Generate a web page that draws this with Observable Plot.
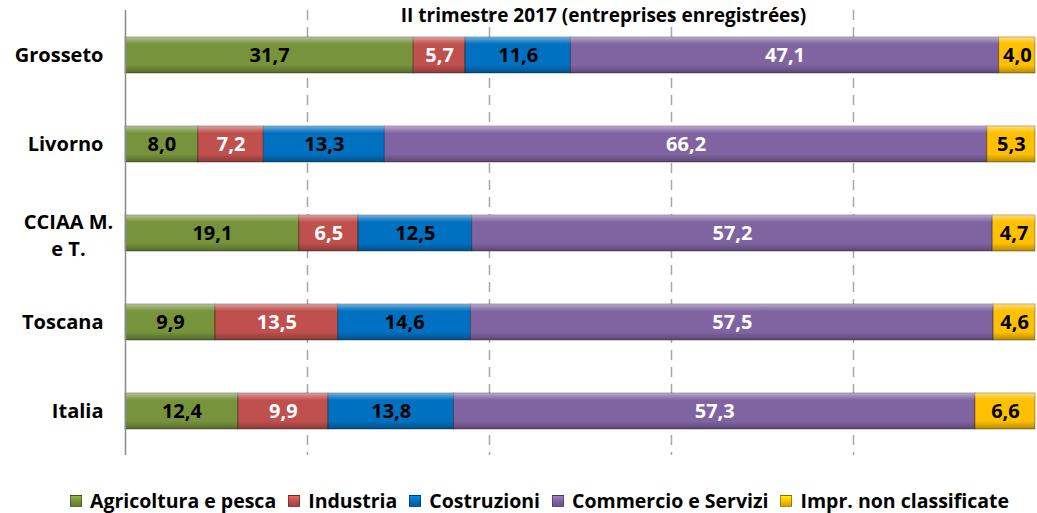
<!DOCTYPE html>
<html>
<head>
<meta charset="utf-8">
<script src="https://cdn.jsdelivr.net/npm/d3@7"></script>
<script src="https://cdn.jsdelivr.net/npm/@observablehq/plot@0.6"></script>
<style>
  html, body { margin: 0; padding: 0; background: #fff; }
  body { width: 1037px; height: 513px; overflow: hidden; font-family: "Open Sans", sans-serif; }
  #legend { display: flex; justify-content: center; align-items: center; margin-top: 17px; padding-left: 42px;
            font-family: "Open Sans", sans-serif; font-size: 19.5px; font-weight: bold; color: #000; white-space: nowrap; }
  .item { display: flex; align-items: center; margin: 0 6px; }
  .sw { width: 12px; height: 12px; margin-right: 8px; box-sizing: border-box; border: 1px solid rgba(0,0,0,0.35); }
</style>
</head>
<body>
<div id="chart"></div>
<div id="legend"></div>
<script>
const categories = ["Grosseto", "Livorno", "CCIAA M. e T.", "Toscana", "Italia"];
const series = ["Agricoltura e pesca", "Industria", "Costruzioni", "Commercio e Servizi", "Impr. non classificate"];
const agricoltura = [31.7, 8.0, 19.1, 9.9, 12.4];
const industria = [5.7, 7.2, 6.5, 13.5, 9.9];
const costruzioni = [11.6, 13.3, 12.5, 14.6, 13.8];
const commercio = [47.1, 66.2, 57.2, 57.5, 57.3];
const nonClassificate = [4.0, 5.3, 4.7, 4.6, 6.6];
const xTicks = [0.2, 0.4, 0.6, 0.8];
const title = "II trimestre 2017 (entreprises enregistrées)";

const colors = ["#77933C", "#C0504D", "#0070C0", "#8064A2", "#FFC000"];
const darkLabel = new Set(["Agricoltura e pesca", "Costruzioni", "Impr. non classificate"]);

const valuesBySeries = [agricoltura, industria, costruzioni, commercio, nonClassificate];
const data = [];
categories.forEach((c, i) => {
  series.forEach((s, j) => data.push({cat: c, series: s, value: valuesBySeries[j][i]}));
});
const fmt = v => v.toFixed(1).replace(".", ",");
const FONT = "'Open Sans', sans-serif";

const stackOpts = (extra) => Plot.stackX({x: "value", y: "cat", z: "series", order: series, offset: "normalize", ...extra});

const chart = Plot.plot({
  width: 1037,
  height: 470,
  marginLeft: 125,
  marginRight: 2,
  marginTop: 10,
  marginBottom: 15,
  style: {fontFamily: FONT, fontSize: "19px", fontWeight: "bold", background: "#fff"},
  x: {domain: [0, 1], axis: null},
  y: {domain: categories, paddingInner: 0.6, paddingOuter: 0.3, align: 0.5, label: null},
  color: {domain: series, range: colors},
  marks: [
    Plot.gridX(xTicks, {stroke: "#a6a6a6", strokeOpacity: 1, strokeWidth: 1.5, strokeDasharray: "10,7"}),
    Plot.barX(data, stackOpts({fill: "series", stroke: "rgba(0,0,0,0.35)", strokeWidth: 1})),
    Plot.barX(data, stackOpts({fill: "url(#bevel)"})),
    Plot.text(data, stackOpts({
      text: d => darkLabel.has(d.series) ? fmt(d.value) : "",
      fill: "black", fontSize: 20, fontWeight: "bold"
    })),
    Plot.text(data, stackOpts({
      text: d => darkLabel.has(d.series) ? "" : fmt(d.value),
      fill: "white", fontSize: 20, fontWeight: "bold"
    })),
    Plot.ruleX([0], {stroke: "#8c8c8c", strokeWidth: 1.5}),
    Plot.axisY({
      tickSize: 0, tickPadding: 22, fontSize: 20, fontWeight: "bold", fill: "black",
      tickFormat: d => d === "CCIAA M. e T." ? "" : d
    }),
    Plot.text(["CCIAA M. e T."], {
      y: d => d, frameAnchor: "left", dx: -57, textAnchor: "middle",
      text: () => "CCIAA M.\ne T.", lineHeight: 1.35, fontSize: 20, fontWeight: "bold", fill: "black"
    }),
    Plot.text([title], {frameAnchor: "top", dx: 23, dy: -2, text: d => d, fontSize: 19, fontWeight: "bold", fill: "black"})
  ]
});
const defs = d3.select(chart).insert("defs", ":first-child");
const g = defs.append("linearGradient").attr("id", "bevel").attr("x1", 0).attr("y1", 0).attr("x2", 0).attr("y2", 1);
[[0, "#fff", 0.45], [0.14, "#fff", 0.12], [0.2, "#fff", 0], [0.78, "#000", 0], [1, "#000", 0.28]].forEach(([o, c, a]) =>
  g.append("stop").attr("offset", o).attr("stop-color", c).attr("stop-opacity", a));
document.getElementById("chart").appendChild(chart);

const legend = d3.select("#legend");
series.forEach((s, i) => {
  const it = legend.append("div").attr("class", "item");
  it.append("div").attr("class", "sw")
    .style("background", `linear-gradient(${d3.color(colors[i]).brighter(0.6)}, ${colors[i]} 50%, ${d3.color(colors[i]).darker(0.5)})`);
  it.append("span").text(s);
});
</script>
</body>
</html>
